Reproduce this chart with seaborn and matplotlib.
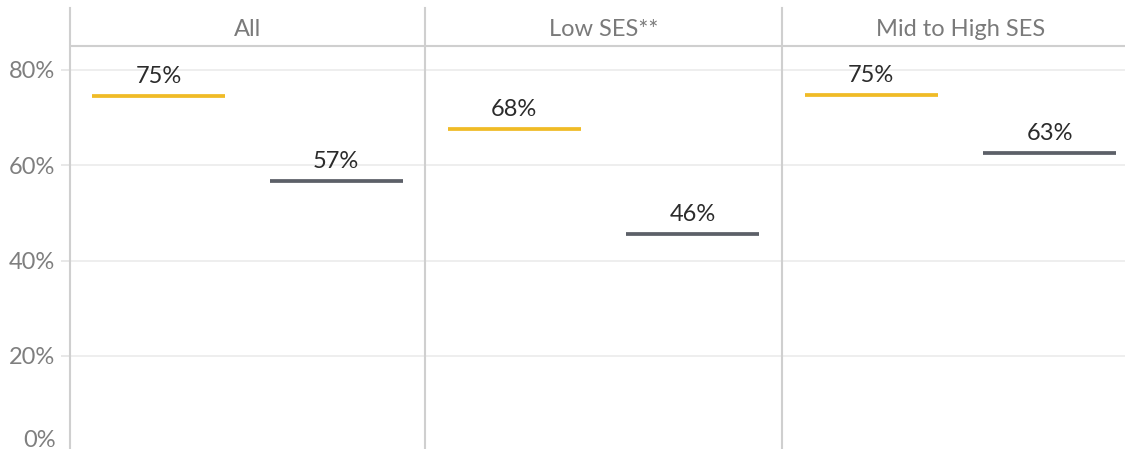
import matplotlib
matplotlib.use("Agg")
import matplotlib.pyplot as plt
import matplotlib.transforms as mtransforms
import seaborn as sns
import pandas as pd

panels = ["All", "Low SES**", "Mid to High SES"]
series = ["Group 1", "Group 2"]
first_values = [0.746, 0.676, 0.748]
second_values = [0.566, 0.456, 0.626]
colors = ["#F0BB26", "#5C6068"]
y_ticks = [0.0, 0.2, 0.4, 0.6, 0.8]
y_tick_labels = ["0%", "20%", "40%", "60%", "80%"]

rows = []
for i, p in enumerate(panels):
    rows.append({"panel": p, "series": series[0], "pos": 0, "value": first_values[i]})
    rows.append({"panel": p, "series": series[1], "pos": 1, "value": second_values[i]})
df = pd.DataFrame(rows)

sns.set_theme(style="white")
plt.rcParams["font.family"] = ["Lato", "DejaVu Sans"]

W, H = 1125, 449
fig = plt.figure(figsize=(W / 100, H / 100), dpi=100)

# pixel layout (from the top of the figure); last panel runs past the right edge
edges = [70, 425, 782, 1139]
zero_px, eighty_px, top_px = 451, 70, 8
px_per_unit = (zero_px - eighty_px) / 0.8
ymax = (zero_px - top_px) / px_per_unit
header_val = (zero_px - 46) / px_per_unit
title_val = (zero_px - 29) / px_per_unit

grey_line = "#CFCFCF"
seg_px = 133
seg_pt = seg_px * 0.72
fs = 17

for i, panel in enumerate(panels):
    ax = fig.add_axes([edges[i] / W, (H - zero_px) / H,
                       (edges[i + 1] - edges[i]) / W, (zero_px - top_px) / H])
    sub = df[df["panel"] == panel]
    sns.scatterplot(data=sub, x="pos", y="value", hue="series", hue_order=series,
                    palette=colors, marker="_", s=seg_pt ** 2, linewidth=2.7,
                    legend=False, ax=ax, zorder=3)
    for _, r in sub.iterrows():
        ax.annotate(f"{r['value']:.0%}", xy=(r["pos"], r["value"]), xytext=(0, 9.5),
                    textcoords="offset points", ha="center", va="baseline",
                    fontsize=fs, color="#2B2B2B")
    ax.set_xlim(-0.5, 1.5)
    ax.set_ylim(0, ymax)
    ax.set_xticks([])
    ax.set_yticks(y_ticks)
    ax.set_xlabel("")
    ax.set_ylabel("")
    ax.yaxis.grid(True, color="#EDEDED", lw=1.3)
    ax.set_axisbelow(True)
    for s in ["top", "right", "bottom"]:
        ax.spines[s].set_visible(False)
    ax.spines["left"].set_color(grey_line)
    ax.spines["left"].set_linewidth(1.5)
    ax.axhline(header_val, color=grey_line, lw=1.5, zorder=2)
    trans = mtransforms.blended_transform_factory(ax.transAxes, ax.transData)
    ax.text(0.5, title_val, panel, transform=trans, ha="center", va="center",
            fontsize=fs, color="#7A7A7A")
    if i == 0:
        ax.set_yticklabels(y_tick_labels)
        ax.tick_params(axis="y", left=True, length=6.5, width=1.2, color="#E4E4E4",
                       labelsize=fs, labelcolor="#7F7F7F", pad=4)
        ax.yaxis.get_major_ticks()[0].label1.set_verticalalignment("bottom")
    else:
        ax.tick_params(axis="y", left=False, labelleft=False)

fig.savefig("out.png", dpi=100)
